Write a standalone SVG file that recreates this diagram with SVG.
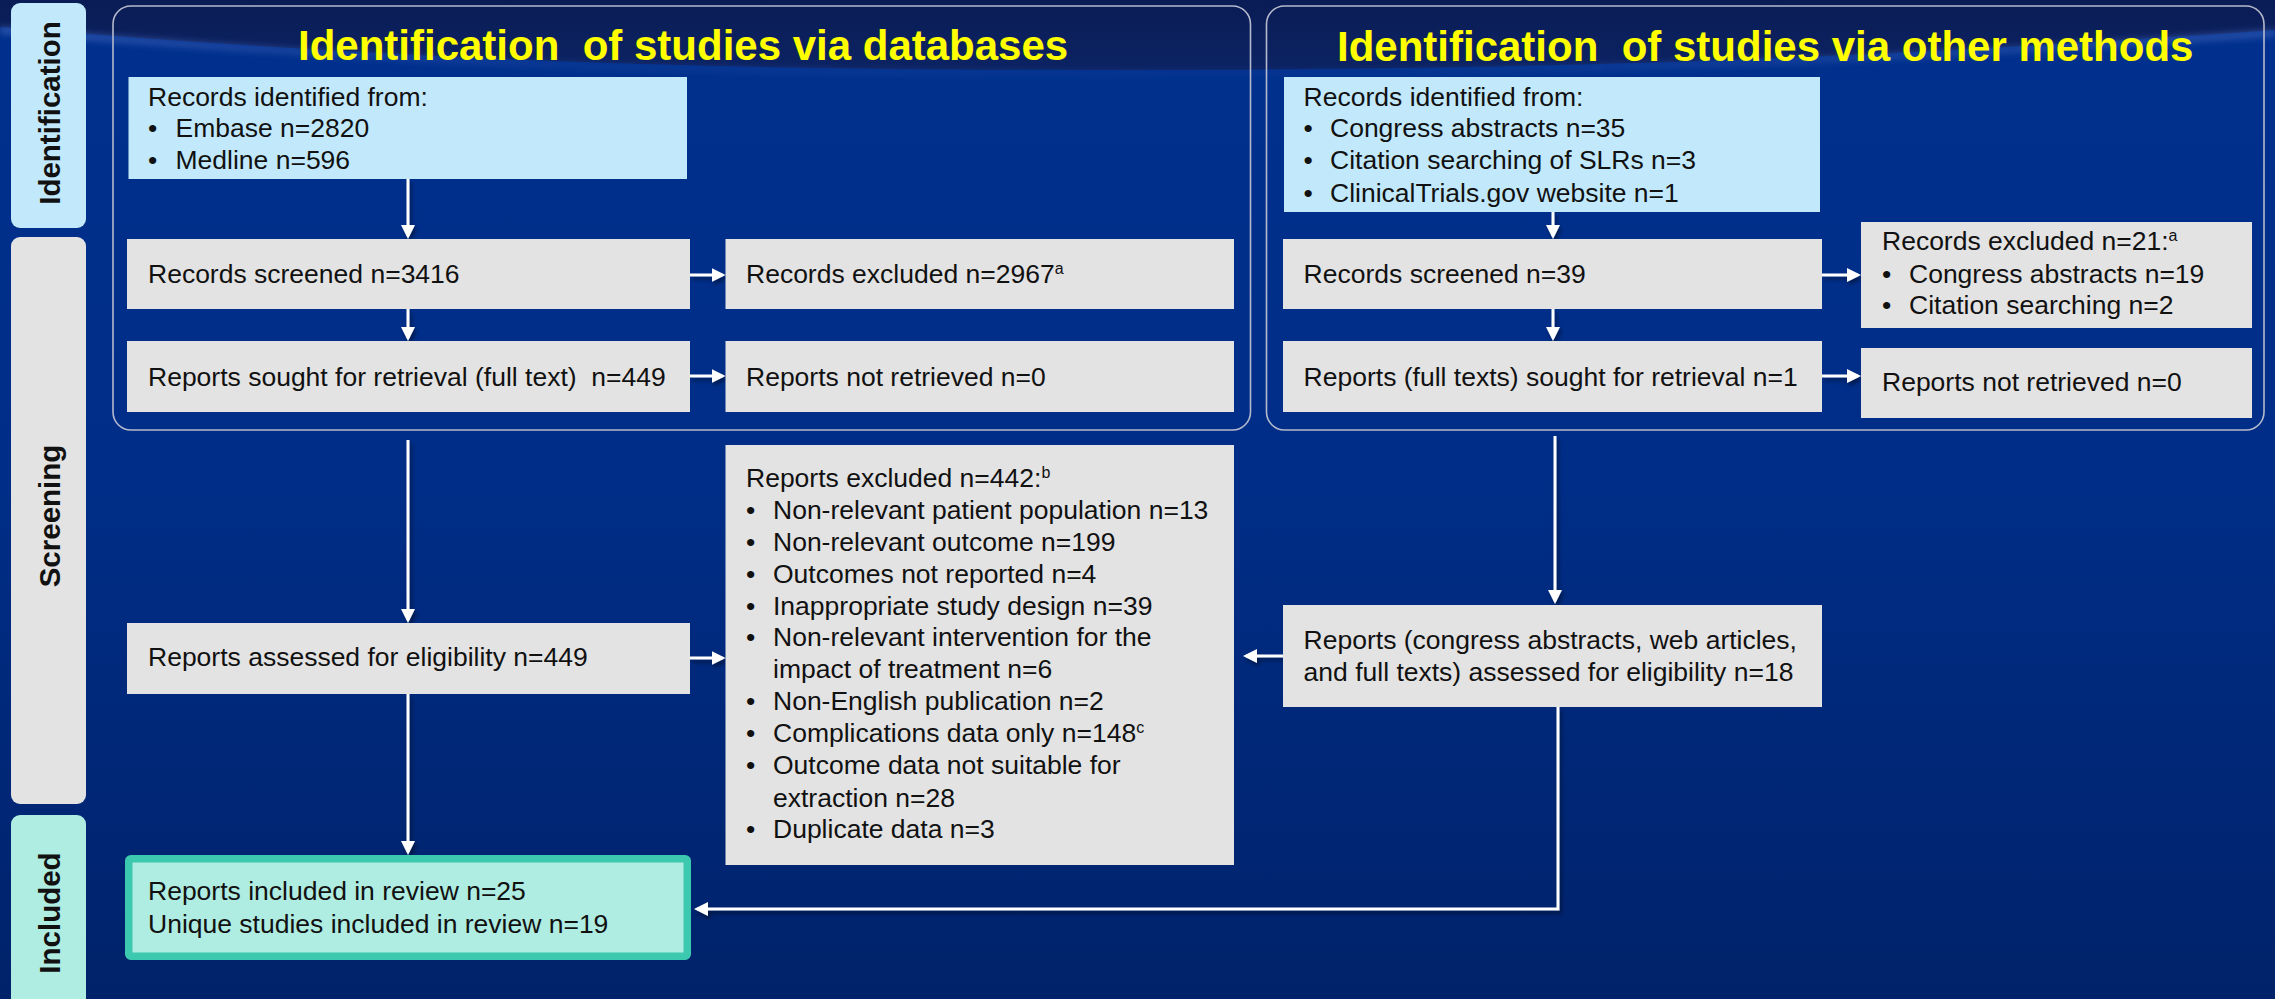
<svg xmlns="http://www.w3.org/2000/svg" width="2275" height="999" viewBox="0 0 2275 999">
  <defs>
    <linearGradient id="bgGrad" x1="0" y1="0" x2="0" y2="1">
      <stop offset="0" stop-color="#00308e"/>
      <stop offset="0.5" stop-color="#002d86"/>
      <stop offset="1" stop-color="#00226a"/>
    </linearGradient>
    <linearGradient id="bandGrad" x1="0" y1="0" x2="0" y2="1">
      <stop offset="0" stop-color="#0a1c55"/>
      <stop offset="1" stop-color="#0c2363"/>
    </linearGradient>
    <linearGradient id="swooshGrad" x1="0" y1="0" x2="1" y2="0">
      <stop offset="0" stop-color="#4a6cc0" stop-opacity="0.6"/>
      <stop offset="0.25" stop-color="#3b5db4" stop-opacity="0.2"/>
      <stop offset="0.6" stop-color="#3b5db4" stop-opacity="0.1"/>
      <stop offset="1" stop-color="#4a6cc0" stop-opacity="0.55"/>
    </linearGradient>
    <filter id="soft" x="-5%" y="-50%" width="110%" height="200%">
      <feGaussianBlur stdDeviation="3"/>
    </filter>
    <filter id="lineShadow" x="-10%" y="-10%" width="120%" height="120%">
      <feDropShadow dx="2" dy="3" stdDeviation="2" flood-color="#000" flood-opacity="0.45"/>
    </filter>
    <marker id="arrow" viewBox="0 0 14 14" refX="11" refY="7" markerWidth="14" markerHeight="14" markerUnits="userSpaceOnUse" orient="auto">
      <path d="M0,0 L14,7 L0,14 Z" fill="#ffffff"/>
    </marker>
  </defs>
  <style>
    .frame { fill: none; stroke: #b4b9cc; stroke-width: 1.6; }
    .title { font-family: "Liberation Sans", Arial, sans-serif; font-weight: bold; font-size: 42px; fill: #ffff00; }
    .stage { font-family: "Liberation Sans", Arial, sans-serif; font-weight: bold; font-size: 29.5px; fill: #111111; text-anchor: middle; }
    .blue { fill: #c2e9fb; }
    .grey { fill: #e3e3e3; }
    .mint { fill: #afece1; }
    .incl { fill: #afece1; stroke: #3cc9b0; stroke-width: 7.5; }
    .t { font-family: "Liberation Sans", Arial, sans-serif; font-size: 26.5px; fill: #111111; }
    .sup { font-size: 16px; }
    .conn { fill: none; stroke: #ffffff; stroke-width: 3; }
  </style>

  <!-- background with dark top band -->
  <rect x="0" y="0" width="2275" height="999" fill="url(#bgGrad)"/>
  <path d="M0,0 H2275 V30 C1900,56 1600,70 1100,70 C700,70 400,60 0,27 Z" fill="url(#bandGrad)"/>
  <path d="M0,30 C400,63 700,73 1100,73 C1600,73 1900,59 2275,33" fill="none" stroke="url(#swooshGrad)" stroke-width="7" filter="url(#soft)"/>

  <!-- stage labels -->
  <g id="stage-identification">
    <rect x="11" y="3" width="75" height="225" rx="9" class="blue"/>
    <text class="stage" transform="translate(60,113) rotate(-90)">Identification</text>
  </g>
  <g id="stage-screening">
    <rect x="11" y="237" width="75" height="567" rx="9" class="grey"/>
    <text class="stage" transform="translate(60,516) rotate(-90)">Screening</text>
  </g>
  <g id="stage-included">
    <rect x="11" y="815" width="75" height="200" rx="9" class="mint"/>
    <text class="stage" transform="translate(60,913) rotate(-90)">Included</text>
  </g>

  <!-- section frames and headings -->
  <g id="section-databases">
    <rect x="113" y="6" width="1137.5" height="424" rx="18" class="frame"/>
    <text class="title" x="298" y="60" xml:space="preserve">Identification  of studies via databases</text>
  </g>
  <g id="section-other">
    <rect x="1266.5" y="6" width="997.5" height="424" rx="18" class="frame"/>
    <text class="title" x="1337" y="61" xml:space="preserve">Identification  of studies via other methods</text>
  </g>

  <!-- connectors -->
  <g id="connectors" filter="url(#lineShadow)">
    <line class="conn" x1="408" y1="179" x2="408" y2="236" marker-end="url(#arrow)"/>
    <line class="conn" x1="408" y1="309" x2="408" y2="338" marker-end="url(#arrow)"/>
    <line class="conn" x1="408" y1="440" x2="408" y2="620" marker-end="url(#arrow)"/>
    <line class="conn" x1="408" y1="694" x2="408" y2="852" marker-end="url(#arrow)"/>
    <line class="conn" x1="690" y1="275" x2="722.5" y2="275" stroke-width="3.5" marker-end="url(#arrow)"/>
    <line class="conn" x1="690" y1="376" x2="722.5" y2="376" stroke-width="3.5" marker-end="url(#arrow)"/>
    <line class="conn" x1="690" y1="658" x2="722.5" y2="658" stroke-width="3.5" marker-end="url(#arrow)"/>
    <line class="conn" x1="1553" y1="212" x2="1553" y2="236" marker-end="url(#arrow)"/>
    <line class="conn" x1="1553" y1="309" x2="1553" y2="338" marker-end="url(#arrow)"/>
    <line class="conn" x1="1555" y1="436" x2="1555" y2="601" marker-end="url(#arrow)"/>
    <line class="conn" x1="1822" y1="275" x2="1858" y2="275" stroke-width="3.5" marker-end="url(#arrow)"/>
    <line class="conn" x1="1822" y1="376" x2="1858" y2="376" stroke-width="3.5" marker-end="url(#arrow)"/>
    <line class="conn" x1="1283" y1="656" x2="1246" y2="656" stroke-width="3.5" marker-end="url(#arrow)"/>
    <polyline class="conn" points="1558,707 1558,909 697,909" marker-end="url(#arrow)"/>
  </g>

  <!-- databases column -->
  <g id="db-identified">
    <rect x="128.5" y="77" width="558.5" height="102" class="blue"/>
    <text class="t" x="148" y="106">Records identified from:</text>
    <text class="t" x="148" y="137.3">•</text>
    <text class="t" x="175.5" y="137.3">Embase n=2820</text>
    <text class="t" x="148" y="169.3">•</text>
    <text class="t" x="175.5" y="169.3">Medline n=596</text>
  </g>
  <g id="db-screened">
    <rect x="127" y="239" width="563" height="70" class="grey"/>
    <text class="t" x="148" y="282.7">Records screened n=3416</text>
  </g>
  <g id="db-excluded">
    <rect x="725.5" y="239" width="508.5" height="70" class="grey"/>
    <text class="t" x="746" y="282.7">Records excluded n=2967<tspan class="sup" dy="-9">a</tspan></text>
  </g>
  <g id="db-sought">
    <rect x="127" y="341" width="563" height="71" class="grey"/>
    <text class="t" x="148" y="385.7" xml:space="preserve">Reports sought for retrieval (full text)  n=449</text>
  </g>
  <g id="db-not-retrieved">
    <rect x="725.5" y="341" width="508.5" height="71" class="grey"/>
    <text class="t" x="746" y="385.7">Reports not retrieved n=0</text>
  </g>
  <g id="db-assessed">
    <rect x="127" y="623" width="563" height="71" class="grey"/>
    <text class="t" x="148" y="665.6">Reports assessed for eligibility n=449</text>
  </g>
  <g id="reports-excluded">
    <rect x="725.5" y="445" width="508.5" height="420" class="grey"/>
    <text class="t" x="746" y="487.2">Reports excluded n=442:<tspan class="sup" dy="-9">b</tspan></text>
    <text class="t" x="746" y="519">•</text>
    <text class="t" x="773" y="519">Non-relevant patient population n=13</text>
    <text class="t" x="746" y="550.8">•</text>
    <text class="t" x="773" y="550.8">Non-relevant outcome n=199</text>
    <text class="t" x="746" y="582.6">•</text>
    <text class="t" x="773" y="582.6">Outcomes not reported n=4</text>
    <text class="t" x="746" y="614.5">•</text>
    <text class="t" x="773" y="614.5">Inappropriate study design n=39</text>
    <text class="t" x="746" y="646.3">•</text>
    <text class="t" x="773" y="646.3">Non-relevant intervention for the</text>
    <text class="t" x="773" y="678.3">impact of treatment n=6</text>
    <text class="t" x="746" y="710.3">•</text>
    <text class="t" x="773" y="710.3">Non-English publication n=2</text>
    <text class="t" x="746" y="742.3">•</text>
    <text class="t" x="773" y="742.3">Complications data only n=148<tspan class="sup" dy="-9">c</tspan></text>
    <text class="t" x="746" y="774.4">•</text>
    <text class="t" x="773" y="774.4">Outcome data not suitable for</text>
    <text class="t" x="773" y="806.5">extraction n=28</text>
    <text class="t" x="746" y="838.4">•</text>
    <text class="t" x="773" y="838.4">Duplicate data n=3</text>
  </g>
  <g id="included">
    <rect x="128.75" y="858.75" width="558.5" height="97.5" rx="2" class="incl"/>
    <text class="t" x="148" y="900">Reports included in review n=25</text>
    <text class="t" x="148" y="932.6">Unique studies included in review n=19</text>
  </g>

  <!-- other methods column -->
  <g id="other-identified">
    <rect x="1284" y="77" width="536" height="135" class="blue"/>
    <text class="t" x="1303.6" y="106">Records identified from:</text>
    <text class="t" x="1303.6" y="137.3">•</text>
    <text class="t" x="1330" y="137.3">Congress abstracts n=35</text>
    <text class="t" x="1303.6" y="169.3">•</text>
    <text class="t" x="1330" y="169.3">Citation searching of SLRs n=3</text>
    <text class="t" x="1303.6" y="201.6">•</text>
    <text class="t" x="1330" y="201.6">ClinicalTrials.gov website n=1</text>
  </g>
  <g id="other-screened">
    <rect x="1283" y="239" width="539" height="70" class="grey"/>
    <text class="t" x="1303.6" y="282.7">Records screened n=39</text>
  </g>
  <g id="other-excluded">
    <rect x="1861" y="222" width="391" height="106" class="grey"/>
    <text class="t" x="1882" y="250">Records excluded n=21:<tspan class="sup" dy="-9">a</tspan></text>
    <text class="t" x="1882" y="282.7">•</text>
    <text class="t" x="1909" y="282.7">Congress abstracts n=19</text>
    <text class="t" x="1882" y="314.3">•</text>
    <text class="t" x="1909" y="314.3">Citation searching n=2</text>
  </g>
  <g id="other-sought">
    <rect x="1283" y="341" width="539" height="71" class="grey"/>
    <text class="t" x="1303.6" y="385.7">Reports (full texts) sought for retrieval n=1</text>
  </g>
  <g id="other-not-retrieved">
    <rect x="1861" y="348" width="391" height="70" class="grey"/>
    <text class="t" x="1882" y="390.7">Reports not retrieved n=0</text>
  </g>
  <g id="other-assessed">
    <rect x="1283" y="605" width="539" height="102" class="grey"/>
    <text class="t" x="1303.6" y="649">Reports (congress abstracts, web articles,</text>
    <text class="t" x="1303.6" y="681">and full texts) assessed for eligibility n=18</text>
  </g>
</svg>
